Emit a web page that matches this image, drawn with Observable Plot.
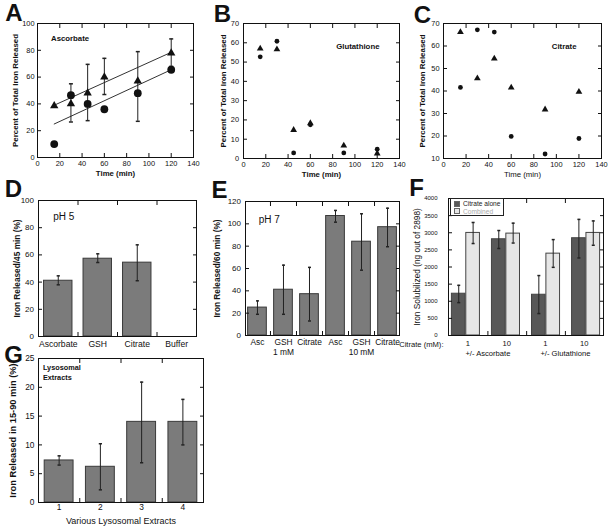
<!DOCTYPE html>
<html><head><meta charset="utf-8">
<script src="https://cdn.jsdelivr.net/npm/d3@7"></script>
<script src="https://cdn.jsdelivr.net/npm/@observablehq/plot@0.6"></script>
<style>
html,body{margin:0;padding:0;background:#fff;}
#fig{position:relative;width:609px;height:527px;overflow:hidden;font-family:"Liberation Sans",Arial,Helvetica,sans-serif;color:#111;}
.lg{position:absolute;border:1px solid #222;background:#fff;font-size:6.6px;line-height:7.6px;padding:1px 2px 1px 3px;box-sizing:border-box;}
.lg div{display:flex;align-items:center;white-space:nowrap;}
.lg span.sw{display:inline-block;width:4px;height:4px;margin-right:3px;border:0.5px solid #666;}
</style></head>
<body><div id="fig"></div>
<script>
// ---------- DATA ----------
// A: Ascorbate time course
const timeTicks = [0, 20, 40, 60, 80, 100, 120, 140];
const tA = [15, 30, 45, 60, 90, 120];
const aTri = [38.5, 40, 48, 60, 57, 78];
const aCirc = [10, 46.5, 40, 36, 48, 65.5];
const aErrT = [30, 45, 60, 90, 120];
const aErrLo = [26.5, 27.5, 47, 27, 68];
const aErrHi = [55, 69.5, 74, 79, 88.5];
const aFitT = [15, 120];
const aFitTri = [39, 78.5];
const aFitCirc = [25, 65.5];
const yTicksA = [0, 20, 40, 60, 80, 100];
// B: Glutathione
const tB = [15, 30, 45, 60, 90, 120];
const bTri = [57, 56.6, 14.8, 18.3, 6.7, 2.6];
const bCirc = [52.7, 60.8, 2.9, 17.5, 2.9, 4.8];
const yTicksB = [0, 10, 20, 30, 40, 50, 60, 70];
// C: Citrate
const tC = [15, 30, 45, 60, 90, 120];
const cTri = [66.2, 45.6, 54.4, 41.5, 31.8, 39.6];
const cCirc = [41.6, 67.2, 66.2, 19.8, 12, 18.9];
const yTicksC = [10, 20, 30, 40, 50, 60, 70];
// D: pH 5
const dCats = ["Ascorbate", "GSH", "Citrate", "Buffer"];
const dVal = [41, 57.2, 54.3, null];
const dLo = [38, 54.4, 41, null];
const dHi = [44.6, 60.8, 67.4, null];
const yTicksD = [0, 20, 40, 60, 80, 100];
// E: pH 7
const eNames = ["Asc", "GSH", "Citrate", "Asc", "GSH", "Citrate"];
const eConc = ["1 mM", "1 mM", "1 mM", "10 mM", "10 mM", "10 mM"];
const eVal = [25, 41, 37, 107, 84, 97];
const eLo = [19, 19, 13, 101.5, 58.5, 79.5];
const eHi = [31, 63, 61, 112, 109, 114];
const yTicksE = [0, 20, 40, 60, 80, 100, 120];
// F: Iron solubilized
const fGroups = ["Asc 1", "Asc 10", "GSH 1", "GSH 10"];
const fTickLabels = ["1", "10", "1", "10"];
const fPairLabels = ["+/- Ascorbate", "+/- Glutathione"];
const fSeries = ["Citrate alone", "Combined"];
const fAlone = [1220, 2810, 1190, 2840];
const fAloneLo = [960, 2540, 640, 2265];
const fAloneHi = [1465, 3065, 1750, 3390];
const fComb = [2995, 2975, 2390, 2995];
const fCombLo = [2685, 2700, 1990, 2635];
const fCombHi = [3300, 3280, 2800, 3345];
const yTicksF = [0, 500, 1000, 1500, 2000, 2500, 3000, 3500, 4000];
// G: Lysosomal extracts
const gCats = ["1", "2", "3", "4"];
const gVal = [7.3, 6.2, 14, 14];
const gLo = [6.5, 2.2, 6.9, 10];
const gHi = [8.1, 10.2, 20.9, 17.9];
const yTicksG = [0, 5, 10, 15, 20, 25];

// ---------- STYLE / HELPERS ----------
const FONT = "'Liberation Sans', Arial, Helvetica, sans-serif";
const INK = "#111";
const BAR = "#7b7b7b";
const EDGE = "#3a3a3a";
const ERR = "#222";
const TK = 4;
const fig = document.getElementById("fig");
const style = {background: "transparent", fontFamily: FONT, overflow: "visible", color: INK};
function place(el, left, top) {
  el.style.position = "absolute";
  el.style.left = left + "px";
  el.style.top = top + "px";
  fig.appendChild(el);
}
const plain = (d) => String(d);
const capSym = (w) => ({draw(ctx) { ctx.moveTo(-w, 0); ctx.lineTo(w, 0); }});
function edgeTicks(xt, yt, xdx = 0) {
  const o = {tickSize: TK, tickFormat: () => "", label: null, stroke: INK};
  return [
    Plot.axisX(xt, {...o, anchor: "bottom", dy: -TK, dx: xdx}),
    Plot.axisX(xt, {...o, anchor: "top", dy: TK, dx: xdx}),
    Plot.axisY(yt, {...o, anchor: "left", dx: TK}),
    Plot.axisY(yt, {...o, anchor: "right", dx: -TK})
  ];
}
const xText = (xt, pad, fs, fmt) => Plot.axisX(xt, {anchor: "bottom", tickSize: 0, tickPadding: pad, fontSize: fs, tickFormat: fmt, label: null, fill: INK});
const yText = (yt, pad, fs) => Plot.axisY(yt, {anchor: "left", tickSize: 0, tickPadding: pad, fontSize: fs, tickFormat: plain, label: null, fill: INK});
const yLabel = (t, dx, fs, fw = "bold") => Plot.text([t], {frameAnchor: "left", rotate: -90, dx, fontSize: fs, fontWeight: fw, textAnchor: "middle", lineAnchor: "middle", fill: INK});
const xLabel = (t, dy, fs, fw = "bold") => Plot.text([t], {frameAnchor: "bottom", dy, fontSize: fs, fontWeight: fw, textAnchor: "middle", lineAnchor: "middle", fill: INK});
const note = (t, anchor, dx, dy, fs, fw, ta) => Plot.text([t], {frameAnchor: anchor, dx, dy, fontSize: fs, fontWeight: fw, textAnchor: ta, lineAnchor: "middle", fill: INK});
const letter = (ch, dx, dy) => Plot.text([ch], {frameAnchor: "top-left", dx, dy, fontSize: 24, fontWeight: "bold", textAnchor: "middle", lineAnchor: "middle", fill: INK});
const bandStep = (w, n, pi, po) => w / (n - pi + 2 * po);

function scatterPanel(o) {
  const rec = o.t.map((t, i) => ({t, tri: o.tri[i], circ: o.circ[i]}));
  const marks = [...(o.under || [])];
  marks.push(
    Plot.dot(rec, {x: "t", y: "circ", r: o.rc, fill: INK, stroke: "none"}),
    Plot.dot(rec, {x: "t", y: "tri", r: o.rt, symbol: "triangle", fill: INK, stroke: "none"}),
    Plot.frame({stroke: INK}),
    ...edgeTicks(timeTicks, o.yTicks),
    xText(timeTicks, 3, 7.4, plain),
    yText(o.yTicks, o.ypad, 7.4),
    xLabel("Time (min)", 16, 7.8, o.xbold ? "bold" : "normal"),
    yLabel("Percent of Total Iron Released", o.ylx, 7.9),
    ...o.extra
  );
  return Plot.plot({
    style, width: o.width, height: o.height,
    marginLeft: o.ml, marginRight: o.mr, marginTop: o.mt, marginBottom: o.mb,
    x: {domain: [0, 140]}, y: {domain: o.yDomain},
    marks
  });
}

// ---------- A ----------
const fitA = aFitT.map((t, i) => ({t, tri: aFitTri[i], circ: aFitCirc[i]}));
const errA = aErrT.map((t, i) => ({t, lo: aErrLo[i], hi: aErrHi[i]}));
place(scatterPanel({
  width: 200, height: 185, ml: 37, mr: 7, mt: 23, mb: 28,
  t: tA, tri: aTri, circ: aCirc, rc: 3.9, rt: 3.1,
  yDomain: [0, 100], yTicks: yTicksA, ypad: 3, ylx: -22, xbold: true,
  under: [
    Plot.line(fitA, {x: "t", y: "tri", stroke: "#333", strokeWidth: 1}),
    Plot.line(fitA, {x: "t", y: "circ", stroke: "#333", strokeWidth: 1}),
    Plot.ruleX(errA, {x: "t", y1: "lo", y2: "hi", stroke: ERR, strokeWidth: 1}),
    Plot.dot(errA, {x: "t", y: "lo", symbol: capSym(2), stroke: ERR, fill: "none"}),
    Plot.dot(errA, {x: "t", y: "hi", symbol: capSym(2), stroke: ERR, fill: "none"})
  ],
  extra: [note("Ascorbate", "top-left", 13.5, 14.6, 7.8, "bold", "start"), letter("A", -23.5, -10)]
}), 0, 0);

// ---------- B ----------
place(scatterPanel({
  width: 205, height: 185, ml: 43, mr: 6, mt: 23, mb: 27,
  t: tB, tri: bTri, circ: bCirc, rc: 2.4, rt: 2.5,
  yDomain: [0, 70], yTicks: yTicksB, ypad: 4.5, ylx: -20.5, xbold: true,
  extra: [note("Glutathione", "top-right", -20, 23.3, 7.8, "bold", "end"), letter("B", -21, -9)]
}), 200, 0);

// ---------- C ----------
place(scatterPanel({
  width: 209, height: 185, ml: 43, mr: 8, mt: 23, mb: 27,
  t: tC, tri: cTri, circ: cCirc, rc: 2.4, rt: 2.5,
  yDomain: [10, 70], yTicks: yTicksC, ypad: 4, ylx: -21.5, xbold: false,
  extra: [note("Citrate", "top-right", -25, 23.3, 7.8, "bold", "end"), letter("C", -21, -8.5)]
}), 400, 0);

// ---------- D ----------
{
  const rec = dCats.map((c, i) => ({c, v: dVal[i], lo: dLo[i], hi: dHi[i]})).filter(d => d.v != null);
  const pi = 0.28, po = 0.14, w = 205, ml = 38, mr = 9;
  const step = bandStep(w - ml - mr, dCats.length, pi, po);
  place(Plot.plot({
    style, width: w, height: 182, marginLeft: ml, marginRight: mr, marginTop: 22, marginBottom: 24,
    x: {domain: dCats, paddingInner: pi, paddingOuter: po, round: false},
    y: {domain: [0, 100]},
    marks: [
      Plot.barY(rec, {x: "c", y: "v", fill: BAR, stroke: EDGE, strokeWidth: 1}),
      Plot.ruleX(rec, {x: "c", y1: "lo", y2: "hi", stroke: ERR, strokeWidth: 1}),
      Plot.dot(rec, {x: "c", y: "lo", symbol: capSym(1.6), stroke: ERR, fill: "none"}),
      Plot.dot(rec, {x: "c", y: "hi", symbol: capSym(1.6), stroke: ERR, fill: "none"}),
      Plot.frame({stroke: INK}),
      ...edgeTicks(dCats.slice(0, -1), yTicksD, step / 2),
      xText(dCats, 4, 8.6),
      yText(yTicksD, 4.5, 8),
      yLabel("Iron Released/45 min (%)", -21, 8.3),
      note("pH 5", "top-left", 14.7, 16.7, 10, "normal", "start"),
      letter("D", -25, -11)
    ]
  }), 0, 178);
}

// ---------- E ----------
{
  const keys = eNames.map((n, i) => n + " " + eConc[i]);
  const rec = keys.map((k, i) => ({k, v: eVal[i], lo: eLo[i], hi: eHi[i]}));
  const pi = 0.28, po = 0.1, w = 205, ml = 45, mr = 6;
  const step = bandStep(w - ml - mr, keys.length, pi, po);
  const mid = [keys[1], keys[4]];
  place(Plot.plot({
    style, width: w, height: 182, marginLeft: ml, marginRight: mr, marginTop: 23, marginBottom: 25,
    x: {domain: keys, paddingInner: pi, paddingOuter: po, round: false},
    y: {domain: [0, 120]},
    marks: [
      Plot.barY(rec, {x: "k", y: "v", fill: BAR, stroke: EDGE, strokeWidth: 1}),
      Plot.ruleX(rec, {x: "k", y1: "lo", y2: "hi", stroke: ERR, strokeWidth: 1}),
      Plot.dot(rec, {x: "k", y: "lo", symbol: capSym(1.5), stroke: ERR, fill: "none"}),
      Plot.dot(rec, {x: "k", y: "hi", symbol: capSym(1.5), stroke: ERR, fill: "none"}),
      Plot.frame({stroke: INK}),
      ...edgeTicks(keys.slice(0, -1), yTicksE, step / 2),
      xText(keys, 4, 8.4, (k) => eNames[keys.indexOf(k)]),
      xText(mid, 14, 8.4, (k) => eConc[keys.indexOf(k)]),
      yText(yTicksE, 4.5, 8),
      yLabel("Iron Released/60 min (%)", -28, 8.3),
      note("pH 7", "top-left", 13.3, 18.3, 10, "normal", "start"),
      letter("E", -26, -11)
    ]
  }), 200, 178);
}

// ---------- F ----------
{
  const rec = [];
  fGroups.forEach((g, i) => {
    rec.push({g, s: fSeries[0], v: fAlone[i], lo: fAloneLo[i], hi: fAloneHi[i]});
    rec.push({g, s: fSeries[1], v: fComb[i], lo: fCombLo[i], hi: fCombHi[i]});
  });
  const pi = 0.3, po = 0.085, w = 209, h = 182, ml = 48, mr = 6, mt = 20, mb = 25;
  const step = bandStep(w - ml - mr, fGroups.length, pi, po);
  const colors = ["#585858", "#e6e6e6"];
  // bars (faceted by group)
  place(Plot.plot({
    style, width: w, height: h, marginLeft: ml, marginRight: mr, marginTop: mt, marginBottom: mb,
    facet: {data: rec, x: "g"},
    fx: {domain: fGroups, paddingInner: pi, paddingOuter: po, round: false, axis: null, label: null},
    x: {domain: fSeries, paddingInner: 0.05, paddingOuter: 0, round: false, axis: null},
    y: {domain: [0, 4000], axis: null},
    color: {domain: fSeries, range: colors},
    marks: [
      Plot.barY(rec, {x: "s", y: "v", fill: "s", stroke: "#444", strokeWidth: 1}),
      Plot.ruleX(rec, {x: "s", y1: "lo", y2: "hi", stroke: ERR, strokeWidth: 1}),
      Plot.dot(rec, {x: "s", y: "lo", symbol: capSym(1.5), stroke: ERR, fill: "none"}),
      Plot.dot(rec, {x: "s", y: "hi", symbol: capSym(1.5), stroke: ERR, fill: "none"})
    ]
  }), 400, 178);
  // frame, axes and labels
  const pairs = fPairLabels.map((label, i) => ({label, at: fGroups[i * 2]}));
  place(Plot.plot({
    style, width: w, height: h, marginLeft: ml, marginRight: mr, marginTop: mt, marginBottom: mb,
    x: {domain: fGroups, paddingInner: pi, paddingOuter: po, round: false},
    y: {domain: [0, 4000]},
    marks: [
      Plot.frame({stroke: INK}),
      ...edgeTicks(fGroups.slice(0, -1), yTicksF, step / 2),
      xText(fGroups, 5, 7.6, (k) => fTickLabels[fGroups.indexOf(k)]),
      Plot.text(pairs, {x: "at", text: "label", frameAnchor: "bottom", dx: step / 2, dy: 18.3, fontSize: 7.6, lineAnchor: "middle", fill: INK}),
      note("Citrate (mM):", "bottom-left", -5, 9, 7.6, "normal", "end"),
      yText(yTicksF, 11, 6),
      yLabel("Iron Solubilized (ng out of 2898)", -31, 8.3, "normal"),
      letter("F", -32, -10)
    ]
  }), 400, 178);
  // legend
  const lg = document.createElement("div");
  lg.className = "lg";
  lg.style.left = "450px"; lg.style.top = "198px"; lg.style.width = "54px"; lg.style.height = "18px";
  fSeries.forEach((s, i) => {
    const row = document.createElement("div");
    const sw = document.createElement("span");
    sw.className = "sw";
    sw.style.background = colors[i];
    row.appendChild(sw);
    const tx = document.createElement("span");
    tx.textContent = s;
    tx.style.color = i === 0 ? "#222" : "#aaa";
    row.appendChild(tx);
    lg.appendChild(row);
  });
  fig.appendChild(lg);
}

// ---------- G ----------
{
  const rec = gCats.map((c, i) => ({c, v: gVal[i], lo: gLo[i], hi: gHi[i]}));
  const pi = 0.3, po = 0.15, w = 210, ml = 38, mr = 7;
  const step = bandStep(w - ml - mr, gCats.length, pi, po);
  place(Plot.plot({
    style, width: w, height: 182, marginLeft: ml, marginRight: mr, marginTop: 13, marginBottom: 25,
    x: {domain: gCats, paddingInner: pi, paddingOuter: po, round: false},
    y: {domain: [0, 25]},
    marks: [
      Plot.barY(rec, {x: "c", y: "v", fill: BAR, stroke: EDGE, strokeWidth: 1}),
      Plot.ruleX(rec, {x: "c", y1: "lo", y2: "hi", stroke: ERR, strokeWidth: 1}),
      Plot.dot(rec, {x: "c", y: "lo", symbol: capSym(1.6), stroke: ERR, fill: "none"}),
      Plot.dot(rec, {x: "c", y: "hi", symbol: capSym(1.6), stroke: ERR, fill: "none"}),
      Plot.frame({stroke: INK}),
      ...edgeTicks(gCats.slice(0, -1), yTicksG, step / 2),
      xText(gCats, 2, 8.4),
      yText(yTicksG, 4, 8.4),
      xLabel("Various Lysosomal Extracts", 18.3, 9, "normal"),
      yLabel("Iron Released in 15-90 min (%)", -25, 9.3),
      Plot.text(["Lysosomal\nExtracts"], {frameAnchor: "top-left", dx: 4.4, dy: 13, fontSize: 7.3, fontWeight: "bold", lineHeight: 1.37, textAnchor: "start", lineAnchor: "middle", fill: INK}),
      letter("G", -25, -3)
    ]
  }), 0, 345);
}
</script>
</body></html>
